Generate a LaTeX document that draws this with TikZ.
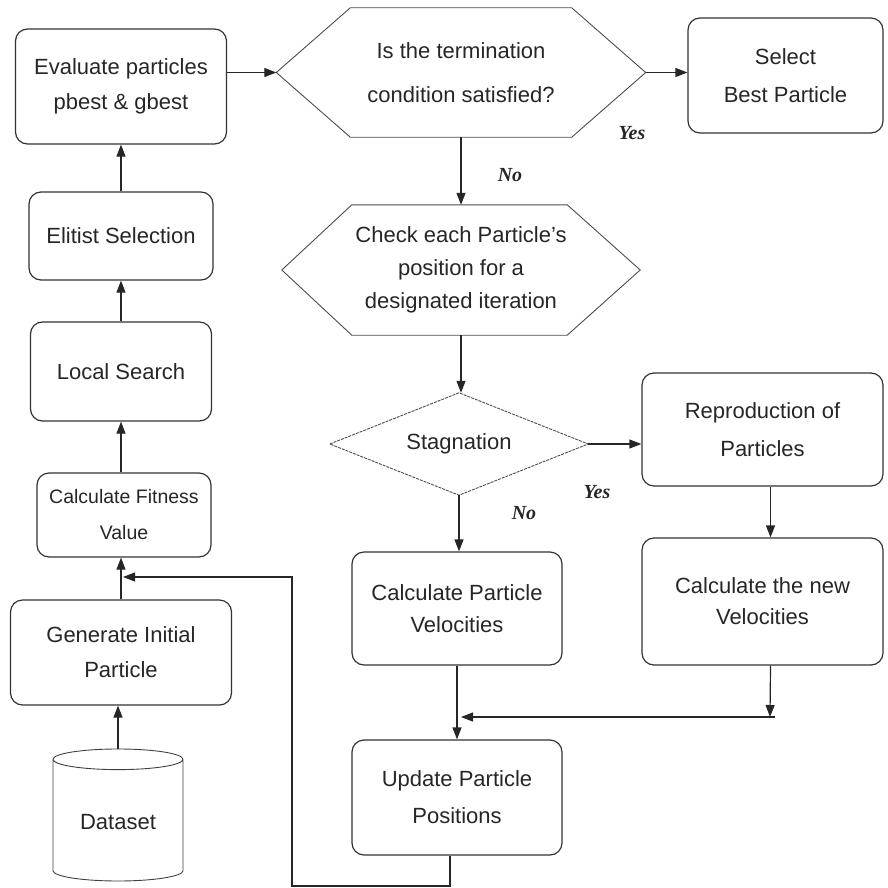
\documentclass[tikz,border=0pt]{standalone}
\usepackage{fontspec}
\setmainfont{Liberation Sans}
\newfontfamily\yesnofont{Liberation Serif}
\usetikzlibrary{arrows.meta,shapes.geometric}

\begin{document}
\begin{tikzpicture}[x=1pt, y=-1pt,
    box/.style={draw=black!80, line width=1.2pt, rounded corners=12pt,
                align=center, text=black!85, font=\fontsize{22}{35}\selectfont},
    decision/.style={inner sep=0pt, align=center, text=black!85,
                font=\fontsize{22}{33}\selectfont},
    outline/.style={draw=black!70, line width=0.9pt},
    arr/.style={-{Triangle[length=12pt,width=9pt]}, line width=1.2pt, black!85},
    yesno/.style={font=\yesnofont\bfseries\itshape\fontsize{20}{22}\selectfont, text=black!85},
]
    \useasboundingbox (0,0) rectangle (887,888);

    % left column
    \node[box, minimum width=211pt, minimum height=115pt] (eval) at (121,86.5)
        {Evaluate particles\\pbest \& gbest};
    \node[box, minimum width=184pt, minimum height=88pt]  (elit) at (121,236) {Elitist Selection};
    \node[box, minimum width=181pt, minimum height=99pt]  (local) at (121,371.5) {Local Search};
    \node[box, minimum width=174pt, minimum height=84pt,
          font=\fontsize{19.5}{36}\selectfont]            (fit)  at (124,515)
        {Calculate Fitness\\Value};
    \node[box, minimum width=221pt, minimum height=105pt] (gen)  at (121,652.5)
        {Generate Initial\\Particle};
    \node[cylinder, shape border rotate=90, draw=black!75, line width=0.9pt, aspect=0.25,
          minimum width=130pt, minimum height=132pt, text=black!85,
          font=\fontsize{22}{33}\selectfont]             (data) at (118,822) {Dataset};

    % decisions
    \node[decision, minimum width=369pt, minimum height=129pt,
          font=\fontsize{22}{44}\selectfont]              (term) at (461,72.5)
        {Is the termination\\condition satisfied?};
    \node[decision, minimum width=358pt, minimum height=130pt] (check) at (461,270)
        {Check each Particle's\\position for a\\designated iteration};
    \node[decision, minimum width=258pt, minimum height=102pt] (stag) at (459,444) {Stagnation};

    \draw[outline] (term.west) -- ([xshift=74pt]term.north west) -- ([xshift=-74pt]term.north east)
        -- (term.east) -- ([xshift=-74pt]term.south east) -- ([xshift=74pt]term.south west) -- cycle;
    \draw[outline] (check.west) -- ([xshift=70pt]check.north west) -- ([xshift=-73pt]check.north east)
        -- (check.east) -- ([xshift=-73pt]check.south east) -- ([xshift=70pt]check.south west) -- cycle;
    \draw[outline, dash pattern=on 3pt off 1pt] (stag.west) -- (stag.north) -- (stag.east)
        -- (stag.south) -- cycle;

    % right side
    \node[box, minimum width=195pt, minimum height=115pt, font=\fontsize{22}{38}\selectfont]
        (best) at (785.5,75.5) {Select\\Best Particle};
    \node[box, minimum width=241pt, minimum height=113pt, font=\fontsize{22}{38}\selectfont]
        (repro) at (762.5,429.5) {Reproduction of\\Particles};
    \node[box, minimum width=241pt, minimum height=127pt, font=\fontsize{22}{31}\selectfont]
        (newvel) at (762.5,601.5) {Calculate the new\\Velocities};
    \node[box, minimum width=210pt, minimum height=113pt, font=\fontsize{22}{32}\selectfont]
        (calcvel) at (457,608.5) {Calculate Particle\\Velocities};
    \node[box, minimum width=210pt, minimum height=115pt, font=\fontsize{22}{37}\selectfont]
        (upd) at (457,797.5) {Update Particle\\Positions};

    \coordinate (merge) at (770,717);
    \coordinate (fbbot) at (292,886);
    \coordinate (fbtop) at (292,577);

    % connectors
    \draw[arr] (data.north) -- (data.north |- gen.south);
    \draw[arr] (gen.north) -- (gen.north |- fit.south);
    \draw[arr] (fit.north -| gen.north) -- (gen.north |- local.south);
    \draw[arr] (local.north) -- (elit.south);
    \draw[arr] (elit.north) -- (eval.south);
    \draw[arr] (eval.east |- term.west) -- (term.west);
    \draw[arr] (term.east) -- (term.east -| best.west);
    \draw[arr] (term.south) -- (check.north);
    \draw[arr] (check.south) -- (check.south |- stag.north);
    \draw[arr] (stag.east) -- (stag.east -| repro.west);
    \draw[arr] (stag.south) -- (stag.south |- calcvel.north);
    \draw[arr] ([xshift=8pt]repro.south) -- ([xshift=8pt]newvel.north);
    \draw[arr] ([xshift=8pt]newvel.south) -- (merge);
    \draw[arr] ([xshift=5pt]merge) -- ([xshift=4pt]calcvel.south |- merge);
    \draw[arr] (calcvel.south) -- (upd.north);
    \draw[arr] ([xshift=-7pt]upd.south) |- (fbbot) -- (fbtop) -- ([xshift=2pt]gen.north |- fbtop);

    % labels
    \node[yesno] (yes1) at (632,133) {Yes};
    \node[yesno] (no1)  at (510,175) {No};
    \node[yesno] (yes2) at (597,492) {Yes};
    \node[yesno] (no2)  at (524,513) {No};
\end{tikzpicture}
\end{document}
